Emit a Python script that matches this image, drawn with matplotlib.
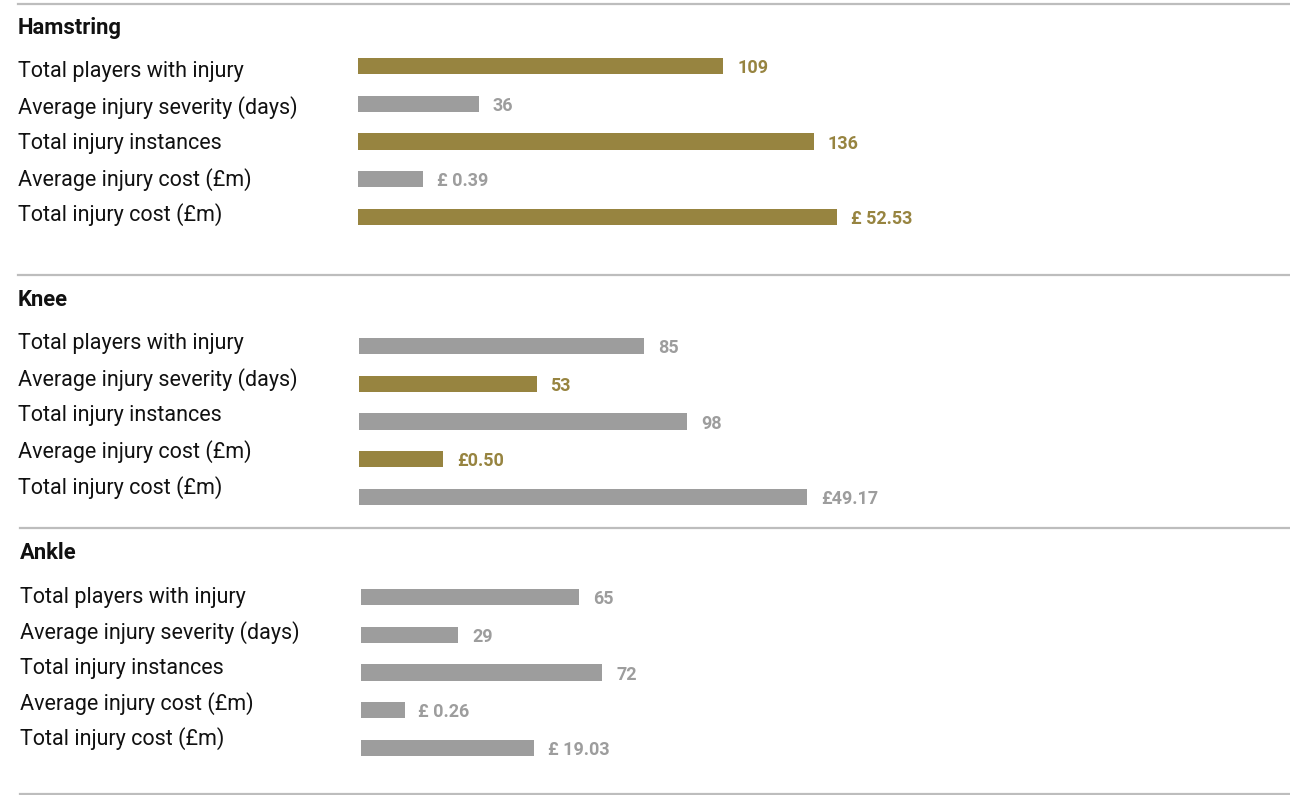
import numpy as np
import matplotlib
matplotlib.use("Agg")
import matplotlib.pyplot as plt
from matplotlib.lines import Line2D

plt.rcParams['font.family'] = ['Roboto', 'DejaVu Sans']

metrics = ['Total players with injury', 'Average injury severity (days)',
           'Total injury instances', 'Average injury cost (£m)', 'Total injury cost (£m)']
panels = ['Hamstring', 'Knee', 'Ankle']

hamstring = [109, 36, 136, 0.39, 52.53]
knee = [85, 53, 98, 0.50, 49.17]
ankle = [65, 29, 72, 0.26, 19.03]
values = [hamstring, knee, ankle]

# which rows are highlighted in gold
highlight = [[0, 2, 4], [1, 3], []]
# pound sign spacing as printed in the source
pound = ['£ ', '£', '£ ']

# each metric has its own bar scale in the original
bar_scale = [1, 1, 1, 50, 2.72]

GOLD = '#978440'
GREY = '#9d9d9d'
W, H = 1290, 795

fig = plt.figure(figsize=(W / 100, H / 100), dpi=100)

# layout in pixels
row_gap = 37.75
panel_top = [66, 346, 597]
bar_x0 = [358, 359, 361]
label_x = [18, 18, 20]
header_y = [28, 300, 553]
label_y0 = [72, 343.5, 597.5]
label_gap = [35.7, 36.1, 35.3]
sep_y = [4, 275, 528, 794]
sep_x = [18, 18, 20, 20]

px_per_unit = 3.35

for p, name in enumerate(panels):
    top = panel_top[p] - row_gap / 2
    ax_h = row_gap * 5
    x0 = bar_x0[p]
    ax = fig.add_axes([x0 / W, 1 - (top + ax_h) / H, (W - x0) / W, ax_h / H])
    ax.set_xlim(0, (W - x0) / px_per_unit)
    ax.set_ylim(4.5, -0.5)
    ax.axis('off')

    vals = np.array(values[p])
    lengths = vals * np.array(bar_scale)
    colors = [GOLD if i in highlight[p] else GREY for i in range(5)]
    ax.barh(np.arange(5), lengths, height=0.43, color=colors)

    for i, v in enumerate(vals):
        txt = f'{pound[p]}{v:.2f}' if i >= 3 else f'{v:g}'
        ax.annotate(txt, (lengths[i], i), xytext=(10, -1.5), textcoords='offset points',
                    va='center', ha='left', fontsize=13, fontweight='semibold',
                    color=colors[i])

    fig.text(label_x[p] / W, 1 - header_y[p] / H, name, fontsize=15.8,
             fontweight='semibold', va='center', ha='left', color='#111111')
    for i, m in enumerate(metrics):
        yy = label_y0[p] + i * label_gap[p]
        fig.text(label_x[p] / W, 1 - yy / H, m, fontsize=15.5,
                 va='center', ha='left', color='#111111')

for y, x in zip(sep_y, sep_x):
    fig.add_artist(Line2D([x / W, 1], [1 - y / H, 1 - y / H], color='#bdbdbd', lw=1.6))

fig.savefig('out.png', dpi=100)
